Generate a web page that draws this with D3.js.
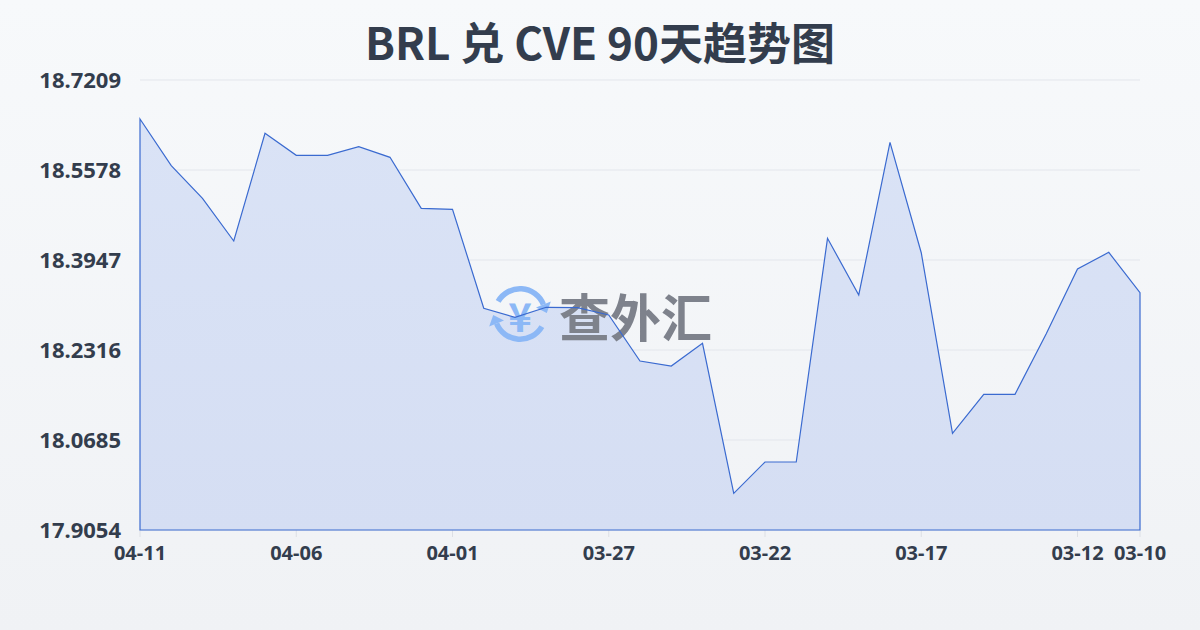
<!DOCTYPE html>
<html><head><meta charset="utf-8">
<script src="https://cdn.jsdelivr.net/npm/d3@7/dist/d3.min.js"></script>
<style>html,body{margin:0;padding:0;}body{width:1200px;height:630px;overflow:hidden;}</style>
</head><body><svg id="c" width="1200" height="630"></svg>
<script>
const titleText = "BRL 兑 CVE 90天趋势图";
const dates = ["04-11","04-10","04-09","04-08","04-07","04-06","04-05","04-04","04-03","04-02","04-01","03-31","03-30","03-29","03-28","03-27","03-26","03-25","03-24","03-23","03-22","03-21","03-20","03-19","03-18","03-17","03-16","03-15","03-14","03-13","03-12","03-11","03-10"];
const values = [18.6502,18.5656,18.5065,18.4291,18.6243,18.5844,18.5844,18.6000,18.5808,18.4884,18.4866,18.3072,18.2909,18.3090,18.3083,18.2950,18.2117,18.2026,18.2437,17.9719,18.0286,18.0286,18.4340,18.3313,18.6080,18.4079,18.0806,18.1513,18.1513,18.2611,18.3784,18.4086,18.3354];
const yTicks = [17.9054,18.0685,18.2316,18.3947,18.5578,18.7209];
const xTicks = ["04-11","04-06","04-01","03-27","03-22","03-17","03-12","03-10"];

const svg = d3.select("#c");
const defs = svg.append("defs");
const bg = defs.append("linearGradient").attr("id","bg").attr("x1",0).attr("y1",0).attr("x2",0).attr("y2",1);
bg.append("stop").attr("offset","0%").attr("stop-color","#f7f9fb");
bg.append("stop").attr("offset","100%").attr("stop-color","#f0f2f5");
const ag = defs.append("linearGradient").attr("id","ag").attr("x1",0).attr("y1",0).attr("x2",0).attr("y2",1);
ag.append("stop").attr("offset","0%").attr("stop-color","#dae3f6");
ag.append("stop").attr("offset","100%").attr("stop-color","#d5def3");

svg.append("rect").attr("width",1200).attr("height",630).attr("fill","url(#bg)");

const x = d3.scalePoint().domain(dates).range([140,1140]);
const y = d3.scaleLinear().domain([yTicks[0], yTicks[yTicks.length-1]]).range([530,80]);
const FONT = "'Noto Sans','Open Sans',sans-serif";

// grid
svg.append("g").selectAll("line").data(yTicks).join("line")
  .attr("x1",140).attr("x2",1140).attr("y1",d=>y(d)).attr("y2",d=>y(d))
  .attr("stroke","#e3e6ec").attr("stroke-width",1);

// y labels
svg.append("g").selectAll("text").data(yTicks).join("text")
  .attr("x",121).attr("y",d=>y(d)).attr("dy","0.35em").attr("text-anchor","end")
  .attr("font-family",FONT).attr("font-weight","bold").attr("font-size",22)
  .attr("fill","#333d4d").text(d=>d.toFixed(4));

// x ticks
const xg = svg.append("g");
xg.selectAll("line").data(xTicks).join("line")
  .attr("x1",d=>x(d)).attr("x2",d=>x(d)).attr("y1",530).attr("y2",537)
  .attr("stroke","#dcdfe5");
xg.selectAll("text").data(xTicks).join("text")
  .attr("x",d=>x(d)).attr("y",553).attr("dy","0.35em").attr("text-anchor","middle")
  .attr("font-family",FONT).attr("font-weight","bold").attr("font-size",20)
  .attr("fill","#333d4d").text(d=>d);

// area fill
const data = dates.map((d,i)=>({date:d, v:values[i]}));
const area = d3.area().x(d=>x(d.date)).y0(530).y1(d=>y(d.v));
svg.append("path").datum(data).attr("d",area).attr("fill","url(#ag)");

// watermark
const wm = svg.append("g");
const cx = 520, cy = 314, r = 28, w = 5.5;
const blue = "#8cb8f6";
const arc = d3.arc();
function ringArc(a0, a1){
  wm.append("path").attr("transform",`translate(${cx},${cy})`)
    .attr("d", arc({innerRadius:r-w, outerRadius:r, startAngle:a0, endAngle:a1})).attr("fill",blue);
  const rm = r - w/2;
  const px = cx + rm*Math.sin(a1), py = cy - rm*Math.cos(a1);
  const tx = Math.cos(a1), ty = Math.sin(a1);
  const nx = Math.sin(a1), ny = -Math.cos(a1);
  const tip = [px+tx*9, py+ty*9], b1=[px+nx*8, py+ny*8], b2=[px-nx*8, py-ny*8];
  wm.append("path").attr("d",`M${tip}L${b1}L${b2}Z`).attr("fill",blue);
}
const deg = Math.PI/180;
ringArc(-60*deg, 68*deg);
ringArc(120*deg, 248*deg);
wm.append("text").attr("x",cx).attr("y",cy+1).attr("text-anchor","middle").attr("dominant-baseline","central")
  .attr("font-family","'Noto Sans CJK SC',sans-serif").attr("font-weight","bold").attr("font-size",40).attr("fill",blue).text("¥");
wm.append("text").attr("x",559).attr("y",315).attr("dominant-baseline","central")
  .attr("font-family","'Noto Sans CJK SC',sans-serif").attr("font-weight","bold").attr("font-size",51)
  .attr("fill","#7e828c").text("查外汇");

// outline
svg.append("path").datum(data).attr("d",area).attr("fill","none")
  .attr("stroke","#3a6ad0").attr("stroke-width",1.2);

// title
svg.append("text").attr("x",600).attr("y",45).attr("dy","0.35em").attr("text-anchor","middle")
  .attr("font-family","'Noto Sans CJK SC','Noto Sans',sans-serif").attr("font-weight","bold").attr("font-size",44)
  .attr("fill","#333d4d").text(titleText);
</script></body></html>
